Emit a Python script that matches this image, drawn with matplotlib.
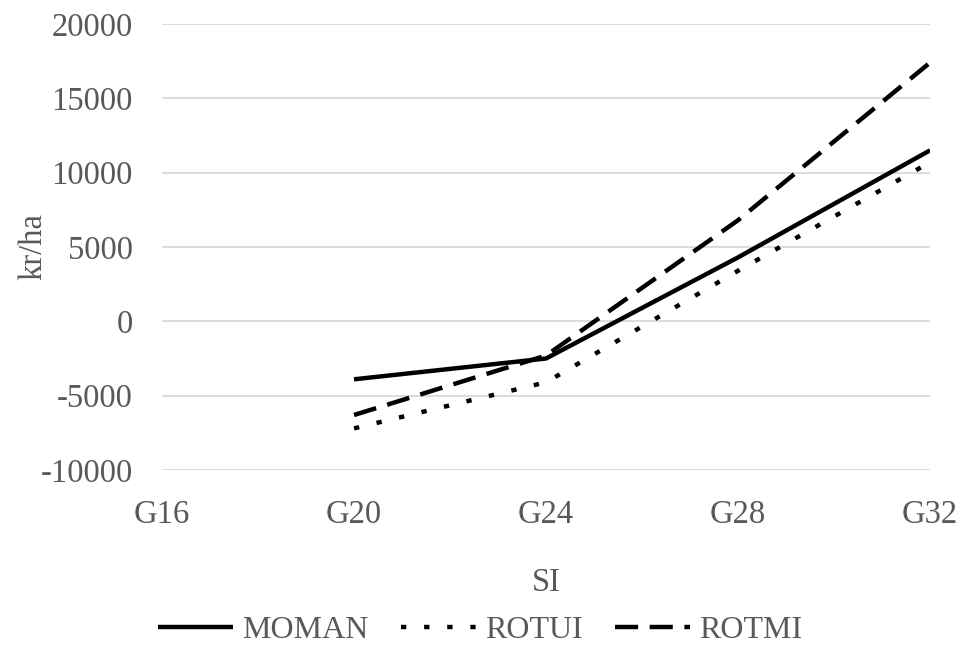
import numpy as np
import matplotlib.pyplot as plt

plt.rcParams['font.family'] = ['Liberation Serif', 'DejaVu Serif']
plt.rcParams['axes.unicode_minus'] = False

categories = ['G16', 'G20', 'G24', 'G28', 'G32']
moman = [np.nan, -3900, -2500, 4300, 11500]
rotui = [np.nan, -7200, -4100, 3400, 10700]
rotmi = [np.nan, -6300, -2300, 6800, 17400]

grey = '#595959'
fs = 23.5

fig = plt.figure(figsize=(9.61, 6.48), dpi=100)
ax = fig.add_axes([0.1686, 0.2747, 0.7992, 0.6883])

x = np.arange(len(categories))
ax.plot(x, moman, color='black', lw=3.2, label='MOMAN', solid_capstyle='butt')
ax.plot(x, rotui, color='black', lw=3.2, label='ROTUI', linestyle=(0, (1.2, 4)), dash_capstyle='butt')
ax.plot(x, rotmi, color='black', lw=3.2, label='ROTMI', linestyle=(0, (5.2, 2.6)), dash_capstyle='butt')

ax.set_xlim(0, 4)
ax.set_ylim(-10000, 20000)
ax.set_yticks(np.arange(-10000, 20001, 5000))
ax.set_xticks(x)
ax.set_xticklabels(categories)
ax.grid(axis='y', color='#d9d9d9', lw=1.3)
ax.set_axisbelow(True)
for s in ax.spines.values():
    s.set_visible(False)
ax.tick_params(length=0, labelsize=fs, labelcolor=grey)
ax.tick_params(axis='x', pad=21)
ax.tick_params(axis='y', pad=21)

ax.set_xlabel('SI', fontsize=fs, color=grey, labelpad=27)
ax.set_ylabel('kr/ha', fontsize=fs, color=grey)
ax.yaxis.set_label_coords(-0.148, 0.5)

leg = fig.legend(loc='center', bbox_to_anchor=(0.4995, 0.027), ncol=3, frameon=False,
                 fontsize=23, handlelength=2.35, columnspacing=1.0, handletextpad=0.3,
                 borderpad=0.1)
for t in leg.get_texts():
    t.set_color(grey)

fig.savefig('out.png', dpi=100)
